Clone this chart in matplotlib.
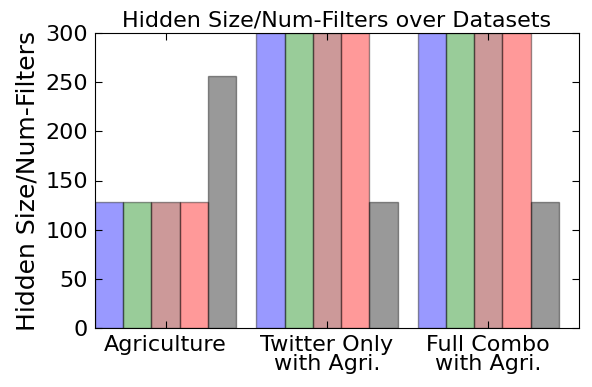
import numpy as np
import matplotlib
matplotlib.use('Agg')
import matplotlib.pyplot as plt

datasets = ['Agriculture', 'Twitter Only\nwith Agri.', 'Full Combo\nwith Agri.']
model_a = [128, 300, 300]
model_b = [128, 300, 300]
model_c = [128, 300, 300]
model_d = [128, 300, 300]
model_e = [256, 128, 128]

series = [model_a, model_b, model_c, model_d, model_e]
colors = ['b', 'g', 'maroon', 'r', 'k']

fig = plt.figure(figsize=(5.92, 3.87), dpi=100)
ax = fig.add_axes([95/592, 1 - 328/387, 484/592, 295/387])

ind = np.arange(len(datasets))
width = 0.175
for i, vals in enumerate(series):
    ax.bar(ind + i*width, vals, width, align='edge', color=colors[i],
           alpha=0.4, edgecolor='k', linewidth=1)

ax.set_xlim(0, 3)
ax.set_ylim(0, 300)
ax.set_xticks(ind + 2.5*width)
ax.set_xticklabels(datasets, fontsize=16, linespacing=0.95)
ax.set_yticks(range(0, 301, 50))
ax.tick_params(axis='y', labelsize=16)
ax.tick_params(direction='in', top=True, right=True, length=5, pad=5)
ax.set_ylabel('Hidden Size/Num-Filters', fontsize=18)
ax.set_title('Hidden Size/Num-Filters over Datasets', fontsize=16, pad=5)

fig.savefig('out.png', dpi=100, facecolor='white')
